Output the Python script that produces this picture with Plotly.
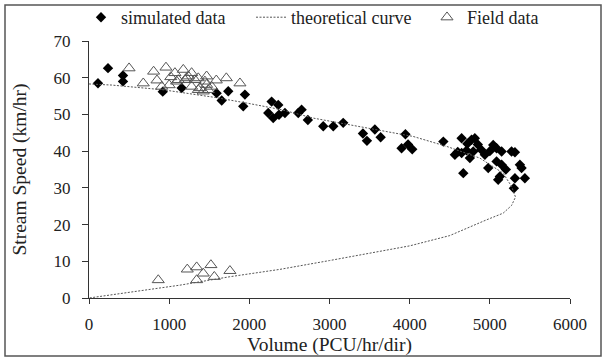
import plotly.graph_objects as go

# simulated data (volume PCU/hr/dir, speed km/hr)
sim_volume = [112, 237, 424, 424, 920, 1156, 1592, 1655, 1737, 1945, 1924, 2278, 2361, 2236,
              2298, 2370, 2444, 2610, 2652, 2730, 2922, 3047, 3171, 3417, 3467, 3566, 3638,
              3947, 3899, 3980, 4032, 4420, 4648, 4772, 4813, 4564, 4648, 4751, 4793, 4892,
              4938, 5042, 5084, 5147, 5271, 5313, 4669, 4980, 5084, 5147, 5104, 5125, 5375,
              5396, 5313, 5437, 5300, 4710, 4850, 5000, 4720, 4600, 5200]
sim_speed = [58.5, 62.6, 60.6, 59.0, 56.2, 57.2, 55.8, 53.8, 56.3, 55.4, 52.2, 53.5, 52.6, 50.4,
             49.0, 49.9, 50.4, 50.4, 51.3, 48.5, 46.8, 46.8, 47.7, 44.8, 42.8, 45.9, 43.8,
             44.6, 40.8, 41.8, 40.5, 42.6, 43.5, 43.1, 43.5, 39.0, 39.5, 38.1, 39.9, 40.4,
             39.0, 41.7, 40.8, 39.9, 39.9, 39.7, 34.0, 35.4, 37.2, 36.3, 32.2, 33.1, 36.3,
             35.4, 32.6, 32.6, 29.9, 40.2, 41.8, 40.0, 42.0, 39.8, 35.0]

# theoretical curve points
theo_volume = [0, 283, 927, 1551, 1967, 2400, 2797, 3629, 4044, 4461, 4876, 5166, 5271, 5320,
               5271, 5166, 4960, 4500, 4000, 3000, 2382, 1758, 1135, 0]
theo_speed = [58.3, 58.0, 56.7, 54.7, 53.1, 51.3, 49.0, 45.8, 44.0, 41.3, 38.1, 34.0, 30.4, 27.5,
              25.2, 23.1, 21.3, 17.0, 14.2, 10.2, 7.8, 5.8, 3.5, 0.0]

# field data
field_volume = [500, 677, 806, 960, 848, 907, 1020, 1072, 1093, 1176, 1114, 1197, 1218, 1238,
                1280, 1280, 1322, 1363, 1363, 1384, 1446, 1467, 1467, 1425, 1488, 1588, 1713,
                1883, 1000, 1530,
                864, 1226, 1343, 1521, 1425, 1343, 1563, 1758]
field_speed = [62.6, 58.5, 61.7, 62.8, 59.3, 57.6, 60.2, 61.3, 59.0, 62.2, 59.4, 59.4, 59.9, 60.4,
               61.3, 57.6, 59.4, 59.9, 56.7, 57.2, 59.0, 60.4, 58.1, 56.3, 56.7, 59.3, 59.9,
               58.5, 58.0, 57.6,
               4.9, 7.8, 8.4, 9.0, 6.7, 4.9, 5.8, 7.4]

x_ticks = [0, 1000, 2000, 3000, 4000, 5000, 6000]
y_ticks = [0, 10, 20, 30, 40, 50, 60, 70]

FONT = "Liberation Serif, Times New Roman, serif"

fig = go.Figure()
fig.add_trace(go.Scatter(
    x=sim_volume, y=sim_speed, mode="markers", name="simulated data",
    marker=dict(symbol="diamond", size=8, color="black", line=dict(width=0)),
    legendwidth=125,
))
fig.add_trace(go.Scatter(
    x=theo_volume, y=theo_speed, mode="lines", name="theoretical curve",
    line=dict(color="#555555", width=1, dash="2px,1.5px"),
    legendwidth=131,
))
fig.add_trace(go.Scatter(
    x=field_volume, y=field_speed, mode="markers", name="Field data",
    marker=dict(symbol="triangle-up-open", size=10.5, color="#555555", line=dict(width=1)),
))

L, R, T, B = 89, 36, 41, 62
W, H = 606, 360
pw, ph = W - L - R, H - T - B

def px(p):
    return (p - L) / pw

def py(q):
    return (H - B - q) / ph

fig.update_layout(
    width=W, height=H,
    margin=dict(l=L, r=R, t=T, b=B, autoexpand=False),
    paper_bgcolor="white", plot_bgcolor="white",
    font=dict(family=FONT, size=17, color="#222222"),
    showlegend=True,
    legend=dict(
        orientation="h", x=px(81), xanchor="left", y=py(17.5), yanchor="middle",
        bgcolor="rgba(0,0,0,0)", font=dict(family=FONT, size=18, color="#222222"),
        itemclick=False,
    ),
    xaxis=dict(
        range=[0, 6000], tickvals=x_ticks, ticktext=[str(v) for v in x_ticks],
        showgrid=False, zeroline=False, showline=True, linecolor="#333333", linewidth=1,
        ticks="outside", ticklen=5, tickcolor="#333333", ticklabelstandoff=6,
        title=dict(text="Volume (PCU/hr/dir)", font=dict(family=FONT, size=19.5), standoff=0),
    ),
    yaxis=dict(
        range=[0, 70], tickvals=y_ticks, ticktext=[str(v) for v in y_ticks],
        showgrid=False, zeroline=False, showline=True, linecolor="#333333", linewidth=1,
        ticks="outside", ticklen=6, tickcolor="#333333", ticklabelstandoff=8,
        title=dict(text="Stream Speed (km/hr)", font=dict(family=FONT, size=19.5), standoff=21),
    ),
    shapes=[dict(
        type="rect", xref="paper", yref="paper",
        x0=px(5), x1=px(601), y0=py(356), y1=py(5),
        line=dict(color="#555555", width=1.5), fillcolor="rgba(0,0,0,0)", layer="below",
    )],
)

fig.write_html("out.html", config={"displayModeBar": False},
               post_script="document.body.style.margin='0px';")
